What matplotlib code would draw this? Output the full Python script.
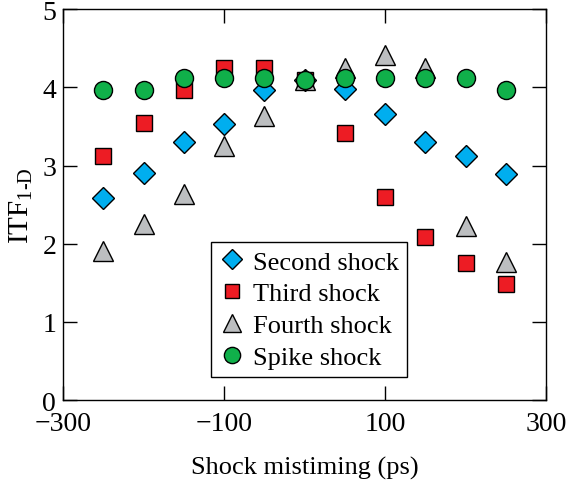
import matplotlib
matplotlib.use('Agg')
import matplotlib.pyplot as plt
import numpy as np

plt.rcParams['font.family'] = ['Liberation Serif', 'DejaVu Serif']
plt.rcParams['mathtext.fontset'] = 'custom'
plt.rcParams['mathtext.rm'] = 'Liberation Serif'

# shock mistiming (ps)
mistiming = [-250, -200, -150, -100, -50, 0, 50, 100, 150, 200, 250]

second_shock = [2.59, 2.91, 3.30, 3.53, 3.96, 4.10, 3.98, 3.66, 3.30, 3.12, 2.89]
third_shock = [3.12, 3.54, 3.97, 4.25, 4.25, 4.10, 3.42, 2.60, 2.08, 1.75, 1.48]
fourth_shock = [1.91, 2.25, 2.63, 3.25, 3.64, 4.10, 4.25, 4.42, 4.25, 2.23, 1.76]
spike_shock = [3.96, 3.96, 4.12, 4.12, 4.12, 4.10, 4.12, 4.12, 4.12, 4.12, 3.96]

fig = plt.figure(figsize=(5.69, 4.85), dpi=100)
ax = fig.add_axes([0.111, 0.173, 0.849, 0.806])

ax.plot(mistiming, second_shock, 'D', ms=11.5, mfc='#00AEEF', mec='black', mew=1, label='Second shock')
ax.plot(mistiming, third_shock, 's', ms=11.5, mfc='#ED1C24', mec='black', mew=1, label='Third shock')
ax.plot(mistiming, fourth_shock, '^', ms=15, mfc='#BCBEC0', mec='black', mew=1, label='Fourth shock')
ax.plot(mistiming, spike_shock, 'o', ms=13, mfc='#10B04A', mec='black', mew=1, label='Spike shock')

ax.set_xlim(-300, 300)
ax.set_ylim(0, 5)
ax.set_xticks([-300, -100, 100, 300])
ax.set_yticks([0, 1, 2, 3, 4, 5])
ax.tick_params(direction='in', length=10, width=1, top=True, right=True, labelsize=20)
ax.tick_params(axis='x', pad=8)
ax.tick_params(axis='y', pad=5)
for s in ax.spines.values():
    s.set_linewidth(1)

ax.set_xlabel('Shock mistiming (ps)', fontsize=19, labelpad=14)
ax.set_ylabel(r'ITF$_{\text{1-D}}$', fontsize=21, labelpad=5)

leg = ax.legend(loc='upper left', bbox_to_anchor=(0.306, 0.404), borderaxespad=0,
                fancybox=False, edgecolor='black', fontsize=19, handletextpad=0.3,
                handlelength=1.0, labelspacing=0.32, borderpad=0.3, framealpha=1,
                markerscale=0.9)
leg.get_frame().set_linewidth(1)

fig.savefig('out.png', dpi=100)
